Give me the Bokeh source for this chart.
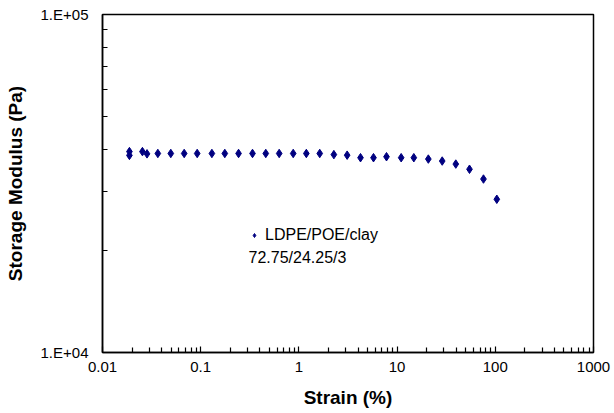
from bokeh.plotting import figure
from bokeh.models import FixedTicker, Legend, LegendItem, ColumnDataSource, Range1d, Label
from bokeh.embed import file_html
from bokeh.resources import INLINE

# Data
strain = [0.0188, 0.0188, 0.0255, 0.0284, 0.0366, 0.0496, 0.0679, 0.0921, 0.130,
          0.176, 0.243, 0.337, 0.460, 0.630, 0.875, 1.19, 1.63, 2.27, 3.10, 4.24,
          5.75, 7.80, 11.0, 14.8, 20.8, 28.8, 39.6, 54.6, 75.8, 103.6]
modulus = [39300, 38300, 39300, 38700, 38800, 38800, 38800, 38800, 38800,
           38800, 38800, 38800, 38800, 38800, 38800, 38800, 38800, 38500, 38350, 37700,
           37700, 37950, 37700, 37700, 37350, 36850, 36100, 34850, 32600, 28400]

x_ticks = [0.01, 0.1, 1, 10, 100, 1000]
x_tick_labels = ["0.01", "0.1", "1", "10", "100", "1000"]
y_ticks = [1e4, 1e5]
y_tick_labels = ["1.E+04", "1.E+05"]
series_label = "LDPE/POE/clay"
series_note = "72.75/24.25/3"

FONT = "Liberation Sans"
NAVY = "#000080"

x_minor = [d * m for d in x_ticks[:-1] for m in range(2, 10)]
y_minor = [y_ticks[0] * m for m in range(2, 10)]

p = figure(width=612, height=410, x_axis_type="log", y_axis_type="log",
           x_range=Range1d(x_ticks[0], x_ticks[-1]), y_range=Range1d(y_ticks[0], y_ticks[-1]),
           output_backend="svg", toolbar_location=None,
           min_border_left=102, min_border_right=19, min_border_top=14, min_border_bottom=53)

p.background_fill_color = "white"
p.border_fill_color = "white"
p.outline_line_color = "black"
p.outline_line_width = 1.5
p.xgrid.visible = False
p.ygrid.visible = False

src = ColumnDataSource(dict(x=strain, y=modulus))
r = p.scatter("x", "y", source=src, marker="diamond", size=8.5,
              fill_color=NAVY, line_color=NAVY, line_width=1)

p.xaxis.ticker = FixedTicker(ticks=x_ticks, minor_ticks=x_minor)
p.yaxis.ticker = FixedTicker(ticks=y_ticks, minor_ticks=y_minor)
p.xaxis.major_label_overrides = {t: l for t, l in zip(x_ticks, x_tick_labels)}
p.yaxis.major_label_overrides = {t: l for t, l in zip(y_ticks, y_tick_labels)}

for ax in (p.xaxis[0], p.yaxis[0]):
    ax.axis_line_color = "black"
    ax.axis_line_width = 1.5
    ax.major_tick_in = 6
    ax.major_tick_out = 0
    ax.minor_tick_in = 5
    ax.minor_tick_out = 0
    ax.major_tick_line_color = "black"
    ax.minor_tick_line_color = "black"
    ax.major_tick_line_width = 1.2
    ax.minor_tick_line_width = 1.2
    ax.major_label_text_font = FONT
    ax.major_label_text_font_size = "15px"
    ax.major_label_text_color = "black"
    ax.axis_label_text_font = FONT
    ax.axis_label_text_font_size = "19px"
    ax.axis_label_text_font_style = "bold"
    ax.axis_label_text_color = "black"

p.xaxis.axis_label = "Strain (%)"
p.yaxis.axis_label = "Storage Modulus (Pa)"
p.xaxis.major_label_standoff = 9
p.yaxis.major_label_standoff = 14
p.xaxis.axis_label_standoff = 12
p.yaxis.axis_label_standoff = 12

legend = Legend(items=[LegendItem(label=series_label, renderers=[r])],
                location=(147, 108), padding=0, margin=0, glyph_width=10, glyph_height=14,
                label_standoff=6, border_line_color=None, background_fill_alpha=0,
                label_text_font=FONT, label_text_font_size="16px",
                label_text_color="black")
p.add_layout(legend, "center")

note = Label(x=146, y=95, x_units="screen", y_units="screen", text=series_note,
             text_font=FONT, text_font_size="16px", text_baseline="middle",
             text_align="left", text_color="black")
p.add_layout(note)

open("out.html", "w").write(file_html(p, INLINE))
